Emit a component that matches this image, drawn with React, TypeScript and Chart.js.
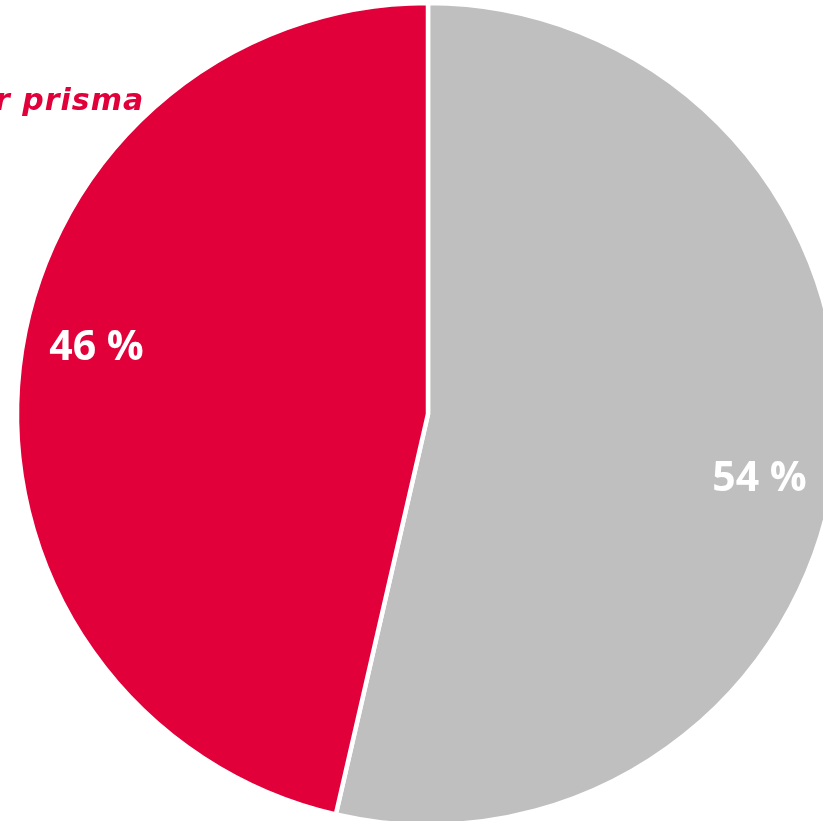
import React, { useEffect, useRef } from "react";
import { Chart, registerables } from "chart.js";

Chart.register(...registerables);

const categories = ["Andere", "prisma"];
const shares = [53.6, 46.4];
const sliceColors = ["#BFBFBF", "#E2003A"];
const sideLabel = "r prisma";

const labelPlugin = {
  id: "sliceLabels",
  afterDatasetsDraw(chart: any) {
    const { ctx } = chart;
    const meta = chart.getDatasetMeta(0);
    const ds = chart.data.datasets[0];
    const total = ds.data.reduce((a: number, b: number) => a + b, 0);
    ctx.save();
    ctx.fillStyle = "#FFFFFF";
    ctx.font = "bold 41px 'Open Sans'";
    ctx.textAlign = "center";
    ctx.textBaseline = "middle";
    meta.data.forEach((arc: any, i: number) => {
      const p = arc.getProps(["x", "y", "startAngle", "endAngle", "outerRadius"], true);
      const mid = (p.startAngle + p.endAngle) / 2 + (4.7 * Math.PI) / 180;
      const r = p.outerRadius * 0.822;
      const x = p.x + Math.cos(mid) * r;
      const y = p.y + Math.sin(mid) * r;
      const pct = Math.round((ds.data[i] / total) * 100);
      ctx.fillText(pct + " %", x, y);
    });
    ctx.restore();
  },
};

export default function App() {
  const ref = useRef<HTMLCanvasElement | null>(null);
  useEffect(() => {
    if (!ref.current) return;
    const chart = new Chart(ref.current, {
      type: "pie",
      data: {
        labels: categories,
        datasets: [
          {
            data: shares,
            backgroundColor: sliceColors,
            borderColor: "#FFFFFF",
            borderWidth: 4.5,
            radius: 411,
          } as any,
        ],
      },
      options: {
        responsive: false,
        animation: false,
        layout: { padding: 0 },
        plugins: {
          legend: { display: false },
          tooltip: { enabled: false },
        },
      },
      plugins: [labelPlugin],
    });
    return () => chart.destroy();
  }, []);

  return (
    <div
      style={{
        position: "fixed",
        left: 0,
        top: 0,
        width: 823,
        height: 821,
        overflow: "hidden",
        background: "#FFFFFF",
      }}
    >
      <canvas
        ref={ref}
        width={856}
        height={828}
        style={{ position: "absolute", left: 0, top: 0, width: 856, height: 828 }}
      />
      <span
        style={{
          position: "absolute",
          left: -5,
          top: 82,
          fontFamily: "'DejaVu Sans'",
          fontStyle: "italic",
          fontWeight: 700,
          fontSize: 30,
          letterSpacing: 1,
          color: "#E2003A",
          lineHeight: "36px",
          whiteSpace: "nowrap",
        }}
      >
        {sideLabel}
      </span>
    </div>
  );
}
